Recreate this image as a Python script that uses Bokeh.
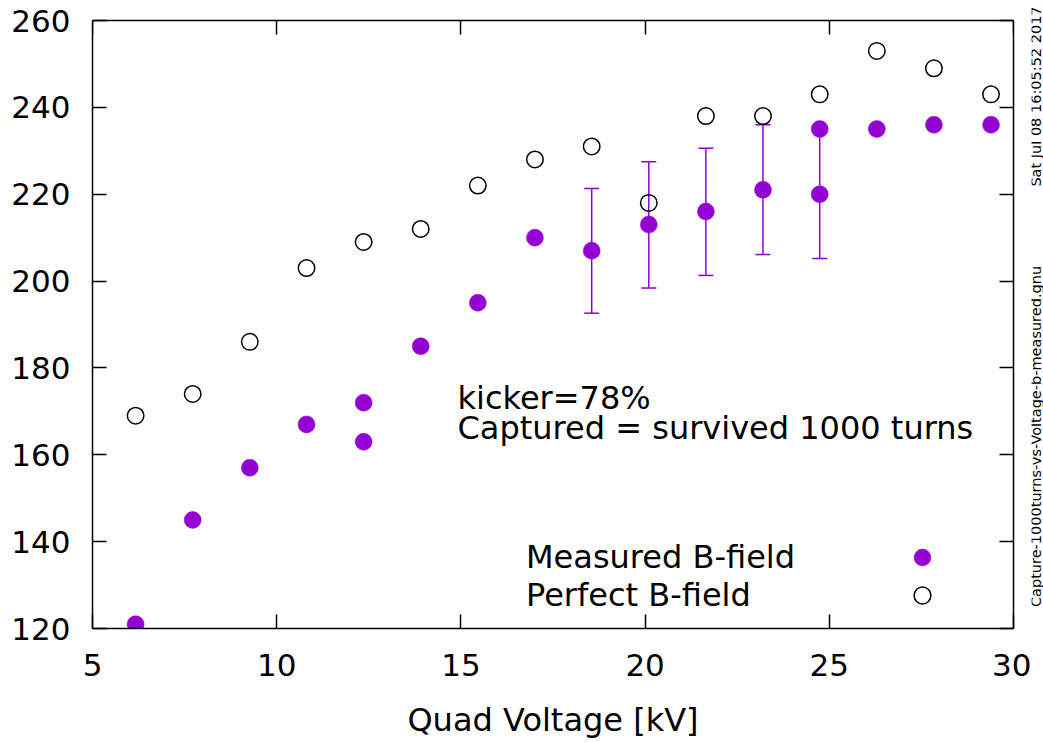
from bokeh.plotting import figure
from bokeh.layouts import row
from bokeh.models import (Range1d, LinearAxis, FixedTicker, Whisker, TeeHead,
                          ColumnDataSource, Label, Legend, LegendItem)
from bokeh.embed import file_html
from bokeh.resources import INLINE

# ---------------- data ----------------
perfect_x = [6.17, 7.72, 9.27, 10.81, 12.36, 13.91, 15.46, 17.01, 18.55, 20.10,
             21.65, 23.20, 24.74, 26.29, 27.84, 29.39]
perfect_y = [169, 174, 186, 203, 209, 212, 222, 228, 231, 218,
             238, 238, 243, 253, 249, 243]

measured_x = [6.17, 7.72, 9.27, 10.81, 12.36, 12.36, 13.91, 15.46, 17.01, 18.55,
              20.10, 21.65, 23.20, 24.74, 24.74, 26.29, 27.84, 29.39]
measured_y = [121, 145, 157, 167, 172, 163, 185, 195, 210, 207,
              213, 216, 221, 235, 220, 235, 236, 236]

err_x = [18.55, 20.10, 21.65, 23.20, 24.74]
err_low = [192.6, 198.4, 201.3, 206.1, 205.2]
err_high = [221.3, 227.5, 230.6, 236.0, 235.0]

x_ticks = [5, 10, 15, 20, 25, 30]
y_ticks = [120, 140, 160, 180, 200, 220, 240, 260]
x_lim = (5, 30)
y_lim = (120, 260)

series_names = ["Measured B-field", "Perfect B-field"]
note_lines = ["kicker=78%", "Captured = survived 1000 turns"]
date_text = "Sat Jul 08 16:05:52 2017"
file_text = "Capture-1000turns-vs-Voltage-b-measured.gnu"
x_label = "Quad Voltage [kV]"

# ---------------- layout constants ----------------
FONT = "DejaVu Sans"
FS_TICK = "31px"
FS_TEXT = "32px"
PURPLE = "#9400D3"
W, H = 1043, 742
SIDE_W = 12                     # narrow strip on the right for the rotated stamps
MAIN_W = W - SIDE_W
LEFT, BOX_TOP, BOX_W, BOX_H = 92, 20, 921, 608
FRAME_H = BOX_TOP + BOX_H        # frame reaches the top edge of the canvas
y_end = y_lim[0] + FRAME_H * (y_lim[1] - y_lim[0]) / BOX_H

p = figure(width=MAIN_W, height=H, x_range=Range1d(*x_lim), y_range=Range1d(y_lim[0], y_end),
           output_backend="svg", toolbar_location=None,
           min_border_left=LEFT, min_border_right=MAIN_W - LEFT - BOX_W,
           min_border_top=0, min_border_bottom=H - FRAME_H)
p.grid.visible = False
p.outline_line_color = None
p.background_fill_color = "white"
p.border_fill_color = "white"


def style_axis(ax, ticks, bounds, labels=True):
    ax.ticker = FixedTicker(ticks=ticks)
    ax.bounds = bounds
    ax.major_tick_in = 14
    ax.major_tick_out = 0
    ax.minor_tick_in = 0
    ax.minor_tick_out = 0
    ax.major_tick_line_color = "black"
    ax.major_tick_line_width = 1.5
    ax.minor_tick_line_color = None
    ax.axis_line_color = "black"
    ax.axis_line_width = 1.5
    if labels:
        ax.major_label_text_font = FONT
        ax.major_label_text_font_size = FS_TICK
        ax.major_label_text_color = "black"
    else:
        ax.major_label_text_font_size = "0px"
        ax.major_label_standoff = 0
        ax.major_label_overrides = {t: "" for t in ticks}


style_axis(p.xaxis[0], x_ticks, x_lim)
style_axis(p.yaxis[0], y_ticks, y_lim)
p.xaxis.major_label_standoff = 25
p.yaxis.major_label_standoff = 22
p.xaxis.axis_label = x_label
p.xaxis.axis_label_text_font = FONT
p.xaxis.axis_label_text_font_size = FS_TEXT
p.xaxis.axis_label_text_font_style = "normal"
p.xaxis.axis_label_text_color = "black"
p.xaxis.axis_label_standoff = 22

top_ax = LinearAxis(fixed_location=y_lim[1])
style_axis(top_ax, x_ticks, x_lim, labels=False)
p.add_layout(top_ax, "above")
right_ax = LinearAxis()
style_axis(right_ax, y_ticks, y_lim, labels=False)
p.add_layout(right_ax, "right")

# ---------------- glyphs ----------------
meas = p.scatter(measured_x, measured_y, marker="circle", size=17,
                 fill_color=PURPLE, line_color=PURPLE, line_width=0.5)
perf = p.scatter(perfect_x, perfect_y, marker="circle", size=16.5,
                 fill_color=None, line_color="black", line_width=1.5)

src = ColumnDataSource(dict(x=err_x, lower=err_low, upper=err_high))
whisk = Whisker(source=src, base="x", lower="lower", upper="upper",
                line_color=PURPLE, line_width=1.5,
                upper_head=TeeHead(size=15, line_color=PURPLE, line_width=1.5),
                lower_head=TeeHead(size=15, line_color=PURPLE, line_width=1.5))
p.add_layout(whisk)

# ---------------- legend (text left, marker right, gnuplot style) ----------------
common = dict(orientation="vertical", padding=0, margin=0, border_line_color=None,
              background_fill_alpha=0, label_text_font=FONT,
              label_text_font_size=FS_TEXT, label_text_color="black")
legend_text = Legend(items=[LegendItem(label=series_names[0], renderers=[meas]),
                            LegendItem(label=series_names[1], renderers=[perf])],
                     location=(434, 14), glyph_width=0, glyph_height=38, spacing=0,
                     label_standoff=0, label_height=20, **common)
legend_m = Legend(items=[LegendItem(label="", renderers=[meas])],
                  location=(809, 50), glyph_width=42, glyph_height=42,
                  label_standoff=0, label_height=20, **common)
legend_p = Legend(items=[LegendItem(label="", renderers=[perf])],
                  location=(809, 12), glyph_width=42, glyph_height=42,
                  label_standoff=0, label_height=20, **common)
for lg in (legend_text, legend_m, legend_p):
    p.add_layout(lg)

# ---------------- annotations ----------------
for text, yy in zip(note_lines, [231, 201]):
    p.add_layout(Label(x=365, y=yy, x_units="screen", y_units="screen", text=text,
                       text_font=FONT, text_font_size=FS_TEXT, text_color="black",
                       text_align="left", text_baseline="alphabetic"))

# ---------------- right strip with the rotated stamps ----------------
side = figure(width=SIDE_W, height=H, x_range=Range1d(0, 1), y_range=Range1d(0, 1),
              output_backend="svg", toolbar_location=None,
              x_axis_type=None, y_axis_type=None, min_border=0)
side.grid.visible = False
side.outline_line_color = None
side.background_fill_color = "white"
side.border_fill_color = "white"
for text, yy in zip([date_text, file_text], [532, 192]):
    side.add_layout(Label(x=4, y=yy, x_units="screen", y_units="screen", text=text,
                          angle=90, angle_units="deg", text_font=FONT, text_font_size="14.5px",
                          text_color="black", text_align="center", text_baseline="alphabetic"))

layout = row(p, side, spacing=0)
open("out.html", "w").write(file_html(layout, INLINE))
